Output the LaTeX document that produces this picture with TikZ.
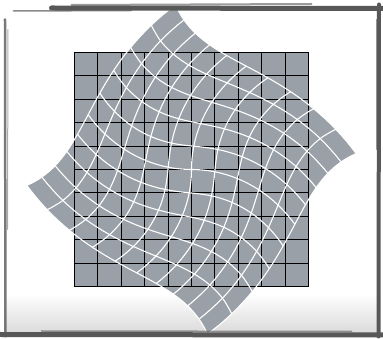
\documentclass[tikz,border=0pt]{standalone}
\usepackage{tikz}

\definecolor{cellgray}{RGB}{154,160,168}
\definecolor{brushgray}{RGB}{88,88,88}

\begin{document}
\begin{tikzpicture}[x=1pt, y=1pt,
    declare function={
        tw(\p,\q)=39.5*veclen(\p,\q)/165.46;
        sx(\p,\q)=\p*cos(tw(\p,\q))+\q*sin(tw(\p,\q));
        sy(\p,\q)=-\p*sin(tw(\p,\q))+\q*cos(tw(\p,\q));
    },
    gridline/.style={black, line width=1pt, line cap=rect},
    swirlline/.style={white, line width=1.1pt},
    brush/.style={brushgray, line cap=round}
]
\useasboundingbox (-191.5,-169.5) rectangle (191.5,169.5);

% shadow at the bottom of the frame
\shade[top color=white, bottom color=gray!28] (-186,-124) rectangle (187,-163);

% twisted image, filled
\fill[cellgray]
    plot[domain=-117:117, samples=41, variable=\t] ({sx(\t,117)},{sy(\t,117)})
 -- plot[domain=117:-117, samples=41, variable=\t] ({sx(117,\t)},{sy(117,\t)})
 -- plot[domain=117:-117, samples=41, variable=\t] ({sx(\t,-117)},{sy(\t,-117)})
 -- plot[domain=-117:117, samples=41, variable=\t] ({sx(-117,\t)},{sy(-117,\t)})
 -- cycle;

% original image with its grid
\fill[cellgray] (-117,-117) rectangle (117,117);
\foreach \i in {0,...,10} {
    \pgfmathsetmacro\k{-117+23.4*\i}
    \draw[gridline] (\k,-117) -- (\k,117);
    \draw[gridline] (-117,\k) -- (117,\k);
}

% twisted grid lines
\foreach \i in {0,...,10} {
    \pgfmathsetmacro\k{-117+23.4*\i}
    \draw[swirlline] plot[domain=-117:117, samples=41, variable=\t] ({sx(\t,\k)},{sy(\t,\k)});
    \draw[swirlline] plot[domain=-117:117, samples=41, variable=\t] ({sx(\k,\t)},{sy(\k,\t)});
}

% rough frame
\draw[brush, line width=5pt] (-140,161.5) -- (191.5,161);
\draw[brush, line width=1.5pt, opacity=0.7] (-178,158.5) -- (-60,159);
\draw[brush, line width=2pt, opacity=0.6] (-120,164.5) -- (120,165.5);
\draw[brush, line width=2.5pt, opacity=0.8] (-186.5,150) -- (-186,-167);
\draw[brush, line width=1pt, opacity=0.5] (-183.5,140) -- (-184,-60);
\draw[brush, line width=4pt] (187.5,165) -- (187,-167);
\draw[brush, line width=1pt, opacity=0.6] (184.5,150) -- (184.5,20);
\draw[brush, line width=5pt] (-191.5,-165) -- (191.5,-165.5);
\draw[brush, line width=1.5pt, opacity=0.6] (-150,-161.5) -- (160,-162);
\end{tikzpicture}
\end{document}
